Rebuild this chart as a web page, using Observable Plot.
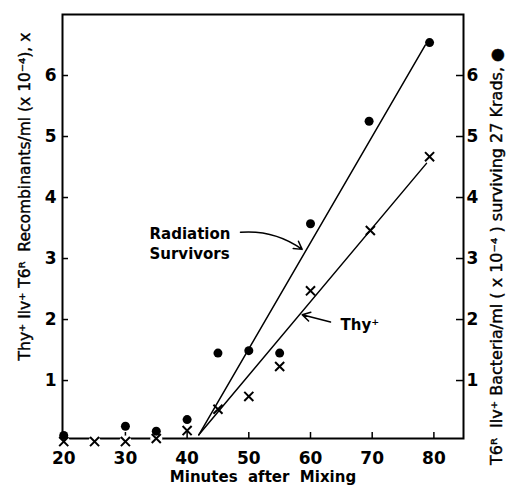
<!DOCTYPE html>
<html>
<head>
<meta charset="utf-8">
<script src="https://cdn.jsdelivr.net/npm/d3@7"></script>
<script src="https://cdn.jsdelivr.net/npm/@observablehq/plot@0.6"></script>
<style>
  html, body { margin: 0; padding: 0; background: #fff; }
  #chart svg { display: block; }
</style>
</head>
<body>
<div id="chart"></div>
<script>
// Radiation survivors (filled dots, right axis)
const dotMinutes = [20, 30, 35, 40, 45, 50, 55, 60, 69.5, 79.3];
const dotValues  = [0.1, 0.25, 0.17, 0.36, 1.45, 1.49, 1.45, 3.57, 5.25, 6.54];
// Thy+ recombinants (x marks, left axis)
const xMinutes = [20, 25, 30, 35, 40, 45, 50, 55, 60, 69.7, 79.3];
const xValues  = [0, 0, 0, 0.05, 0.18, 0.53, 0.74, 1.23, 2.47, 3.46, 4.67];
// Fitted lines (drawn by hand in the original)
const radLineMinutes = [41.9, 78.6];
const radLineValues  = [0.11, 6.5];
const thyLineMinutes = [41.9, 78.8];
const thyLineValues  = [0.11, 4.56];
// Ticks
const xTicks = [20, 30, 40, 50, 60, 70, 80];
const yTicks = [1, 2, 3, 4, 5, 6];
// Texts
const xLabel = "Minutes  after  Mixing";
const leftLabel = "Thy\u207A Ilv\u207A T6\u1D3F  Recombinants/ml (x 10\u207B\u2074), x";
const rightLabel = "T6\u1D3F  Ilv\u207A Bacteria/ml ( x 10\u207B\u2074 ) surviving 27 Krads, \u25CF";

const dots = dotMinutes.map((m, i) => ({m, v: dotValues[i]}));
const xs = xMinutes.map((m, i) => ({m, v: xValues[i]}));
const radLine = radLineMinutes.map((m, i) => ({m, v: radLineValues[i]}));
const thyLine = thyLineMinutes.map((m, i) => ({m, v: thyLineValues[i]}));
const noText = () => "";
const plain = d => String(d);

const chart = Plot.plot({
  width: 507,
  height: 490,
  marginTop: 14,
  marginBottom: 52,
  marginLeft: 62,
  marginRight: 44,
  style: {fontFamily: "DejaVu Sans", fontWeight: "bold", color: "#000", background: "#fff", fontSize: "16px"},
  x: {domain: [19.8, 84.8]},
  y: {domain: [0.05, 7.0]},
  marks: [
    Plot.frame({stroke: "#000", strokeWidth: 2}),
    // tick labels
    Plot.axisX({ticks: xTicks, tickSize: 0, tickPadding: 13, tickFormat: plain, label: null, fontSize: 17}),
    Plot.axisY({anchor: "left", ticks: yTicks, tickSize: 0, tickPadding: 6, tickFormat: plain, label: null, fontSize: 17}),
    Plot.axisY({anchor: "right", ticks: yTicks, tickSize: 0, tickPadding: 3, tickFormat: plain, label: null, fontSize: 17}),
    // inward tick marks
    Plot.axisX({ticks: xTicks.filter(t => t > 20), tickSize: 6, dy: -6, tickFormat: noText, label: null, strokeWidth: 1.5}),
    Plot.axisY({anchor: "left", ticks: yTicks, tickSize: 6, dx: 6, tickFormat: noText, label: null, strokeWidth: 1.5}),
    Plot.axisY({anchor: "right", ticks: yTicks, tickSize: 8, dx: -8, tickFormat: noText, label: null, strokeWidth: 1.5}),
    Plot.line(radLine, {x: "m", y: "v", stroke: "#000", strokeWidth: 1.5}),
    Plot.line(thyLine, {x: "m", y: "v", stroke: "#000", strokeWidth: 1.5}),
    Plot.dot(xs.filter(d => d.v < 0.1), {x: "m", y: "v", r: 6, fill: "#fff", stroke: null}),
    Plot.dot(xs, {x: "m", y: "v", symbol: "times", r: 4.2, stroke: "#000", strokeWidth: 2}),
    Plot.dot(dots, {x: "m", y: "v", r: 4.5, fill: "#000", stroke: null}),
    Plot.text(["Radiation\nSurvivors"], {x: 33.9, y: 3.26, textAnchor: "start", lineHeight: 1.35, fontSize: 15, fontWeight: "bold"}),
    Plot.text(["Thy\u207A"], {x: 64.86, y: 1.905, textAnchor: "start", fontSize: 15, fontWeight: "bold"}),
    Plot.arrow([0], {x1: 48.65, y1: 3.43, x2: 58.65, y2: 3.15, bend: 20, headLength: 9, strokeWidth: 1.5, stroke: "#000"}),
    Plot.arrow([0], {x1: 63.24, y1: 1.96, x2: 58.65, y2: 2.08, headLength: 9, strokeWidth: 1.5, stroke: "#000"}),
    Plot.text([xLabel], {frameAnchor: "bottom", dy: 43, fontSize: 15, fontWeight: "bold"}),
    Plot.text([leftLabel], {frameAnchor: "left", textAnchor: "middle", lineAnchor: "middle", dx: -37, dy: -30, rotate: -90, fontSize: 15.5, fontWeight: "normal", fill: "#000", stroke: "#000", strokeWidth: 0.4}),
    Plot.text([rightLabel], {frameAnchor: "right", textAnchor: "middle", lineAnchor: "middle", dx: 33, dy: 30, rotate: -90, fontSize: 16, fontWeight: "normal", fill: "#000", stroke: "#000", strokeWidth: 0.4})
  ]
});
document.getElementById("chart").appendChild(chart);
</script>
</body>
</html>
